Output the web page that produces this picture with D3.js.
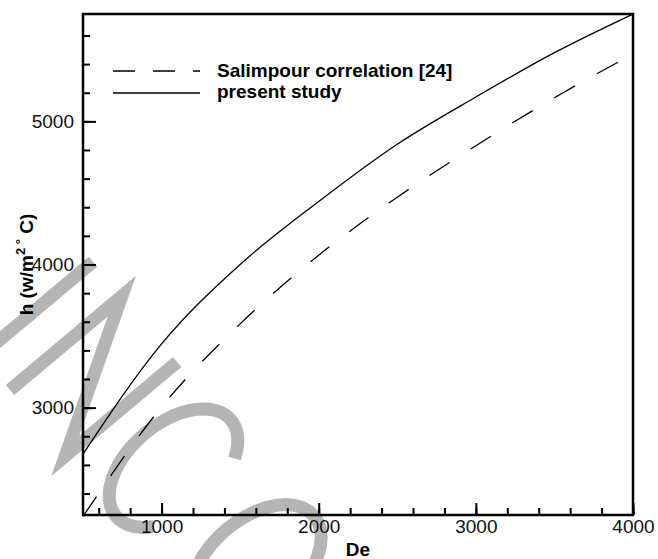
<!DOCTYPE html>
<html>
<head>
<meta charset="utf-8">
<script src="https://cdn.jsdelivr.net/npm/d3@7"></script>
<style>
body{margin:0;background:#fff}
svg{font-family:"Liberation Sans",Arial,sans-serif}
</style>
</head>
<body>
<script>
var W=658,H=559,
	margin={top:14,right:25,bottom:44,left:83}

// De values and heat transfer coefficient
var deValues=[500,1000,1500,2000,2500,3000,3500,4000]
var salimpour=[2240,3005,3585,4065,4470,4830,5165,5470]
var present=[2675,3445,4000,4440,4840,5170,5480,5750]

var xMajor=[1000,2000,3000,4000],
	yMajor=[3000,4000,5000]

var x=d3.scaleLinear().domain([500,4000]).range([margin.left,W-margin.right])
var y=d3.scaleLinear().domain([2250,5750]).range([H-margin.bottom,margin.top])

var svg=d3.select('body').append('svg')
	.attr('width',W).attr('height',H)

// grey watermark letters behind the chart (single stroke, rotated)
var wm=svg.append('g')
	.attr('transform','translate(10,390) rotate(50)')
	.attr('fill','none').attr('stroke','#b5b5b5').attr('stroke-width',13)
	.attr('stroke-linejoin','miter')
var ell=function(cx,cy,rx,ry,a0,a1){
	var p=d3.path(),n=40
	for(var k=0;k<=n;k++){
		var t=(a0+(a1-a0)*k/n)*Math.PI/180
		var px=cx+rx*Math.cos(t),py=cy-ry*Math.sin(t)
		if(k==0)p.moveTo(px,py);else p.lineTo(px,py)
	}
	return p.toString()
}
wm.append('path').attr('d','M-45,0L-45,-146')
wm.append('path').attr('d','M0,0L0,-146L86,0L86,-146')
wm.append('path').attr('d',ell(165,-75,45,75,45,315))
wm.append('path').attr('d',ell(292,-76,46,76,0,360))

var xMinor=d3.range(600,4001,200),
	yMinor=d3.range(2400,5751,200)

// minor ticks
svg.append('g')
	.attr('transform','translate(0,'+y.range()[0]+')')
	.call(d3.axisBottom(x).tickValues(xMinor).tickSizeInner(-7).tickSizeOuter(0).tickFormat(''))
svg.append('g')
	.attr('transform','translate('+x.range()[0]+',0)')
	.call(d3.axisLeft(y).tickValues(yMinor).tickSizeInner(-7).tickSizeOuter(0).tickFormat(''))

// major ticks with labels
svg.append('g')
	.attr('transform','translate(0,'+y.range()[0]+')')
	.call(d3.axisBottom(x).tickValues(xMajor).tickSizeInner(-12).tickSizeOuter(0).tickPadding(5).tickFormat(d3.format('d')))
svg.append('g')
	.attr('transform','translate('+x.range()[0]+',0)')
	.call(d3.axisLeft(y).tickValues(yMajor).tickSizeInner(-13).tickSizeOuter(0).tickPadding(9).tickFormat(d3.format('d')))

svg.selectAll('.domain').remove()
svg.selectAll('.tick line').attr('stroke','#000').attr('stroke-width',2)
svg.selectAll('.tick text').attr('font-size',19).attr('fill','#111')
	.attr('font-family','"Liberation Sans",Arial,sans-serif')

// frame
svg.append('rect')
	.attr('x',x.range()[0]).attr('y',y.range()[1])
	.attr('width',x.range()[1]-x.range()[0])
	.attr('height',y.range()[0]-y.range()[1])
	.attr('fill','none').attr('stroke','#000').attr('stroke-width',2.5)

var line=function(vals){
	return d3.line()
		.x(function(d,i){return x(deValues[i])})
		.y(function(d){return y(d)})
		.curve(d3.curveMonotoneX)(vals)
}

svg.append('path')
	.attr('d',line(salimpour))
	.attr('fill','none').attr('stroke','#000').attr('stroke-width',1.3)
	.attr('stroke-dasharray','24,25')
svg.append('path')
	.attr('d',line(present))
	.attr('fill','none').attr('stroke','#000').attr('stroke-width',1.3)

// legend
var legend=svg.append('g')
legend.append('line').attr('x1',113).attr('x2',200).attr('y1',71).attr('y2',71)
	.attr('stroke','#000').attr('stroke-width',1.5).attr('stroke-dasharray','22,18')
legend.append('line').attr('x1',113).attr('x2',200).attr('y1',93).attr('y2',93)
	.attr('stroke','#000').attr('stroke-width',1.5)
legend.append('text').attr('x',217).attr('y',77).text('Salimpour correlation [24]')
	.attr('font-size',19).attr('font-weight','bold')
legend.append('text').attr('x',217).attr('y',98).text('present study')
	.attr('font-size',19).attr('font-weight','bold')

// axis titles
svg.append('text').attr('x',(x.range()[0]+x.range()[1])/2).attr('y',556)
	.attr('text-anchor','middle').attr('font-size',19).attr('font-weight','bold').text('De')

var yl=svg.append('text')
	.attr('transform','translate(33,'+((y.range()[0]+y.range()[1])/2)+') rotate(-90)')
	.attr('text-anchor','middle').attr('font-size',19).attr('font-weight','bold')
yl.append('tspan').text('h (w/m')
yl.append('tspan').attr('font-size',13).attr('dy',-8).text('2 \u00b0')
yl.append('tspan').attr('dy',8).text(' C)')
</script>
</body>
</html>
